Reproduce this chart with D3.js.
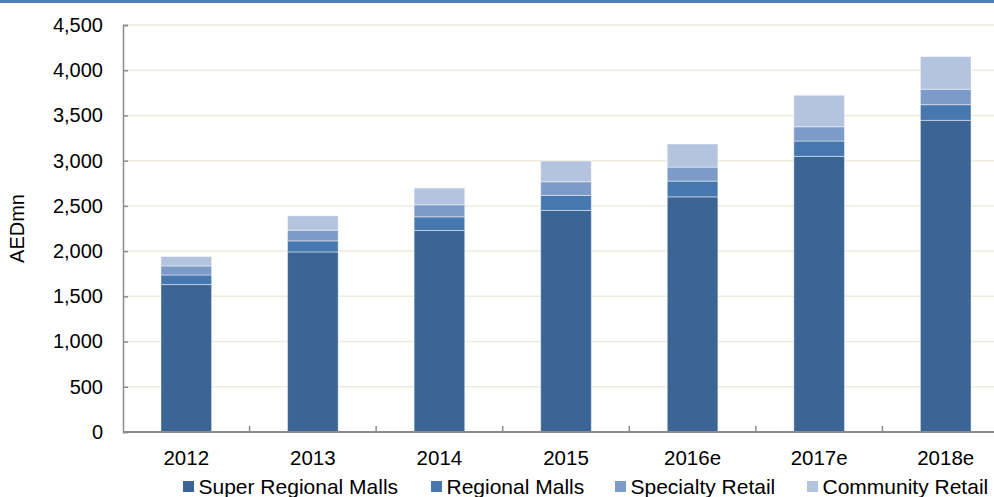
<!DOCTYPE html>
<html>
<head>
<meta charset="utf-8">
<script src="https://cdn.jsdelivr.net/npm/d3@7"></script>
<style>
  body { margin: 0; background: #fff; }
  svg { display: block; font-family: "Liberation Sans", Arial, sans-serif; }
</style>
</head>
<body>
<div id="chart"></div>
<script>
var years = ["2012", "2013", "2014", "2015", "2016e", "2017e", "2018e"];
var superRegional = [1630, 1991, 2228, 2450, 2600, 3048, 3446];
var regional = [106, 122, 151, 166, 174, 169, 173];
var specialty = [100, 118, 133, 151, 155, 158, 171];
var community = [104, 159, 185, 229, 255, 348, 361];
var seriesNames = ["Super Regional Malls", "Regional Malls", "Specialty Retail", "Community Retail"];
var colors = ["#3B6594", "#4677AF", "#7D9BC8", "#B4C3DE"];
var yTicks = [0, 500, 1000, 1500, 2000, 2500, 3000, 3500, 4000, 4500];

var svgWidth = 994, svgHeight = 497;
var margin = { top: 25, left: 123, bottom: 65 };
var plotRight = 1009;
var height = svgHeight - margin.top - margin.bottom;

var svg = d3.select("#chart").append("svg")
  .attr("width", svgWidth)
  .attr("height", svgHeight);

// thin blue band along the top
svg.append("rect")
  .attr("x", 0).attr("y", 0)
  .attr("width", svgWidth).attr("height", 3)
  .attr("fill", "#4F81BD");

var table = years.map(function(y, i) {
  return { year: y, s0: superRegional[i], s1: regional[i], s2: specialty[i], s3: community[i] };
});
var stack = d3.stack().keys(["s0", "s1", "s2", "s3"]);
var stacked = stack(table);

var x = d3.scaleBand()
  .domain(years)
  .range([margin.left, plotRight])
  .paddingInner(0.6)
  .paddingOuter(0.3);

var y = d3.scaleLinear()
  .domain([0, 4500])
  .range([margin.top + height, margin.top]);

// gridlines
svg.append("g").selectAll("line")
  .data(yTicks.slice(1))
  .enter().append("line")
  .attr("x1", margin.left).attr("x2", svgWidth)
  .attr("y1", d => y(d)).attr("y2", d => y(d))
  .attr("stroke", "#EFEADC")
  .attr("stroke-width", 1.5);

// bars
svg.append("g").selectAll("g")
  .data(stacked)
  .enter().append("g")
  .attr("fill", (d, i) => colors[i])
  .selectAll("rect")
  .data(d => d)
  .enter().append("rect")
  .attr("x", d => x(d.data.year))
  .attr("y", d => y(d[1]))
  .attr("width", x.bandwidth())
  .attr("height", d => y(d[0]) - y(d[1]))
  .attr("stroke", "rgba(255,255,255,0.45)")
  .attr("stroke-width", 1);

// y axis
var leftAxis = d3.axisLeft(y).tickValues(yTicks).tickSize(-5).tickPadding(20)
  .tickFormat(d3.format(","));
var yAxis = svg.append("g")
  .attr("transform", `translate(${margin.left},0)`)
  .call(leftAxis);
yAxis.select(".domain").attr("stroke", "#8C8C8C").attr("stroke-width", 1.5);
yAxis.selectAll(".tick line").attr("stroke", "#8C8C8C").attr("stroke-width", 1.5);
yAxis.selectAll("text").attr("font-size", 20).attr("fill", "#000")
  .attr("font-family", "Liberation Sans, Arial, sans-serif");

// x axis, ticks sit between categories
var xAxisG = svg.append("g");
xAxisG.append("line")
  .attr("x1", margin.left).attr("x2", svgWidth)
  .attr("y1", y(0)).attr("y2", y(0))
  .attr("stroke", "#8C8C8C").attr("stroke-width", 2);
xAxisG.selectAll(".xtick")
  .data(years.slice(1))
  .enter().append("line")
  .attr("x1", d => x(d) - x.step() * x.paddingInner() / 2)
  .attr("x2", d => x(d) - x.step() * x.paddingInner() / 2)
  .attr("y1", y(0)).attr("y2", y(0) - 6)
  .attr("stroke", "#8C8C8C").attr("stroke-width", 1.5);
xAxisG.selectAll(".xlabel")
  .data(years)
  .enter().append("text")
  .attr("x", d => x(d) + x.bandwidth() / 2)
  .attr("y", y(0) + 33)
  .attr("text-anchor", "middle")
  .attr("font-size", 20.5)
  .text(d => d);

// y axis title
svg.append("text")
  .attr("transform", `translate(24, ${margin.top + height / 2}) rotate(-90)`)
  .attr("text-anchor", "middle")
  .attr("font-size", 20)
  .text("AEDmn");

// legend
var legendX = [183, 431, 615, 807];
var legend = svg.append("g").selectAll("g")
  .data(seriesNames)
  .enter().append("g")
  .attr("transform", (d, i) => `translate(${legendX[i]}, 481)`);
legend.append("rect")
  .attr("width", 11).attr("height", 11)
  .attr("fill", (d, i) => colors[i]);
legend.append("text")
  .attr("x", 15.5).attr("y", 13)
  .attr("font-size", 21)
  .text(d => d);
</script>
</body>
</html>
